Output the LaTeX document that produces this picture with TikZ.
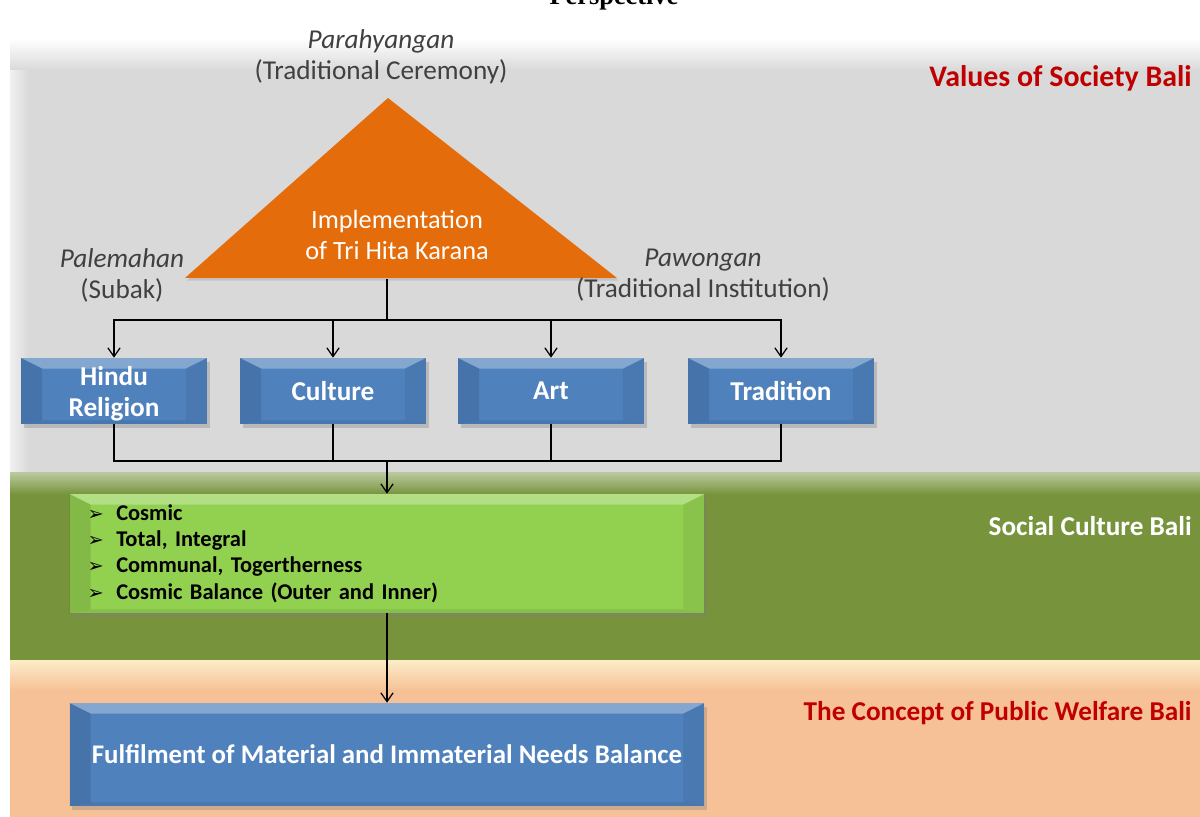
\documentclass[tikz,border=0pt]{standalone}
\usepackage{fontspec}
\setmainfont{Carlito}
\newfontfamily\symfont{DejaVu Sans}
\newfontfamily\capfont{Liberation Serif}
\usetikzlibrary{shadows,arrows.meta}

\definecolor{bandgray}{RGB}{217,217,217}
\definecolor{bandgreen}{RGB}{119,147,60}
\definecolor{bandpeach}{RGB}{246,193,150}
\definecolor{boxblue}{RGB}{79,129,189}
\definecolor{boxgreen}{RGB}{146,208,80}
\definecolor{triorange}{RGB}{228,108,10}
\definecolor{labelred}{RGB}{192,0,0}
\definecolor{labelgray}{RGB}{64,64,64}
\definecolor{peachlight}{RGB}{252,236,200}

\tikzset{
  bevel/.style={path picture={
      \fill[white,opacity=.3] (path picture bounding box.north west) -- (path picture bounding box.north east)
        -- ([xshift=-12pt,yshift=-6pt]path picture bounding box.north east)
        -- ([xshift=12pt,yshift=-6pt]path picture bounding box.north west) -- cycle;
      \fill[black,opacity=.1] (path picture bounding box.north west)
        -- ([xshift=12pt,yshift=-6pt]path picture bounding box.north west)
        -- ([xshift=12pt,yshift=2pt]path picture bounding box.south west)
        -- (path picture bounding box.south west) -- cycle;
      \fill[black,opacity=.06] (path picture bounding box.north east)
        -- ([xshift=-12pt,yshift=-6pt]path picture bounding box.north east)
        -- ([xshift=-12pt,yshift=2pt]path picture bounding box.south east)
        -- (path picture bounding box.south east) -- cycle;
      \fill[black,opacity=.08] (path picture bounding box.south west)
        -- ([xshift=12pt,yshift=2pt]path picture bounding box.south west)
        -- ([xshift=-12pt,yshift=2pt]path picture bounding box.south east)
        -- (path picture bounding box.south east) -- cycle;
    }},
  bluebox/.style={fill=boxblue, bevel, drop shadow={opacity=.35,shadow xshift=1.5pt,shadow yshift=-2pt},
    text=white, align=center, font=\fontsize{15.5}{17.6}\selectfont\bfseries,
    minimum width=3.72cm, minimum height=1.32cm},
  bandlabel/.style={anchor=east, inner sep=0pt, font=\fontsize{15.5}{18}\selectfont\bfseries},
  sidelabel/.style={align=center, text=labelgray, font=\fontsize{15.5}{17.6}\selectfont},
  link/.style={draw, line width=0.7pt},
  flow/.style={link, -{Straight Barb[length=5pt,width=7pt]}},
}

\begin{document}
\begin{tikzpicture}[x=0.02cm,y=-0.02cm]
  \useasboundingbox (0,0) rectangle (1200,817);
  \clip (0,0) rectangle (1200,817);
  \fill[white] (0,0) rectangle (1200,817);

  % bands, with a light rim along their top
  \fill[bandgray] (10,38) rectangle (1210,472);
  \foreach \i in {0,...,15}{
    \pgfmathsetmacro\p{100-\i*100/16}
    \fill[white!\p!bandgray] (10,{38+2*\i}) rectangle (1210,{40.3+2*\i});
  }
  \foreach \i in {0,...,8}{
    \pgfmathsetmacro\p{60-\i*60/9}
    \fill[white!\p!bandgray] ({10+2*\i},70) rectangle ({12.3+2*\i},472);
  }
  \fill[bandgreen] (10,472) rectangle (1210,660);
  \foreach \i in {0,...,10}{
    \pgfmathsetmacro\p{50-\i*50/11}
    \fill[white!\p!bandgreen] (10,{472+2*\i}) rectangle (1210,{474.3+2*\i});
  }
  \fill[bandpeach] (10,660) rectangle (1210,822);
  \foreach \i in {0,...,14}{
    \pgfmathsetmacro\p{100-\i*100/15}
    \fill[peachlight!\p!bandpeach] (10,{660+2*\i}) rectangle (1210,{662.3+2*\i});
  }

  \node[font=\capfont\bfseries\fontsize{15}{17}\selectfont, anchor=base] (title) at (614,5) {Perspective};

  \node[bandlabel, text=labelred, font=\fontsize{17}{20}\selectfont\bfseries] (values) at (1192,78) {Values of Society Bali};
  \node[bandlabel, text=white] (social) at (1192,526) {Social Culture Bali};
  \node[bandlabel, text=labelred] (welfare) at (1192,713) {The Concept of Public Welfare Bali};

  % tri hita karana
  \fill[triorange, drop shadow={opacity=.25,shadow xshift=1pt,shadow yshift=-1.5pt}]
    (388,98) -- (617,278) -- (185,278) -- cycle;
  \coordinate (tri) at (387,279);
  \node[text=white, align=center, font=\fontsize{15}{17.6}\selectfont] (thk) at (397,235)
    {Implementation\\of Tri Hita Karana};

  \node[sidelabel] (para) at (381,57) {\textit{Parahyangan}\\(Traditional Ceremony)};
  \node[sidelabel] (pale) at (122,275) {\textit{Palemahan}\\(Subak)};
  \node[sidelabel] (pawo) at (703,275) {\textit{Pawongan}\\(Traditional Institution)};

  \begin{scope}[every node/.style={bluebox}]
    \node[text depth=0pt] (1) at (114,391) {Hindu\\Religion};
    \node (2) at (333,391) {Culture};
    \node (3) at (551,391) {Art};
    \node (4) at (781,391) {Tradition};
  \end{scope}

  \node[fill=boxgreen, bevel, drop shadow={opacity=.35,shadow xshift=1.5pt,shadow yshift=-2pt},
    minimum width=12.7cm, minimum height=2.38cm, text width=11.98cm, align=left, inner xsep=0.36cm,
    font=\fontsize{12.8}{15}\selectfont\bfseries] (social box) at (387,553.5)
    {{\symfont\mdseries\fontsize{11}{15}\selectfont ➢}\hspace{0.25cm}Cosmic\\
     {\symfont\mdseries\fontsize{11}{15}\selectfont ➢}\hspace{0.25cm}Total, Integral\\
     {\symfont\mdseries\fontsize{11}{15}\selectfont ➢}\hspace{0.25cm}Communal, Togertherness\\
     {\symfont\mdseries\fontsize{11}{15}\selectfont ➢}\hspace{0.25cm}Cosmic Balance (Outer and Inner)};

  \node[bluebox, minimum width=12.7cm, minimum height=2.06cm, font=\fontsize{15.3}{17}\selectfont\bfseries]
    (needs) at (387,754.5) {Fulfilment of Material and Immaterial Needs Balance};

  % connectors
  \coordinate (split) at (387,320);
  \coordinate (join) at (387,461);
  \path[link] (tri) -- (split);
  \foreach \n in {1,2,3,4}{
    \path[flow] (split) -| (\n.north);
    \path[link] (\n.south) |- (join);
  }
  \path[flow] (join) -- (social box.north);
  \path[flow] (social box.south) -- (needs.north);
\end{tikzpicture}
\end{document}
